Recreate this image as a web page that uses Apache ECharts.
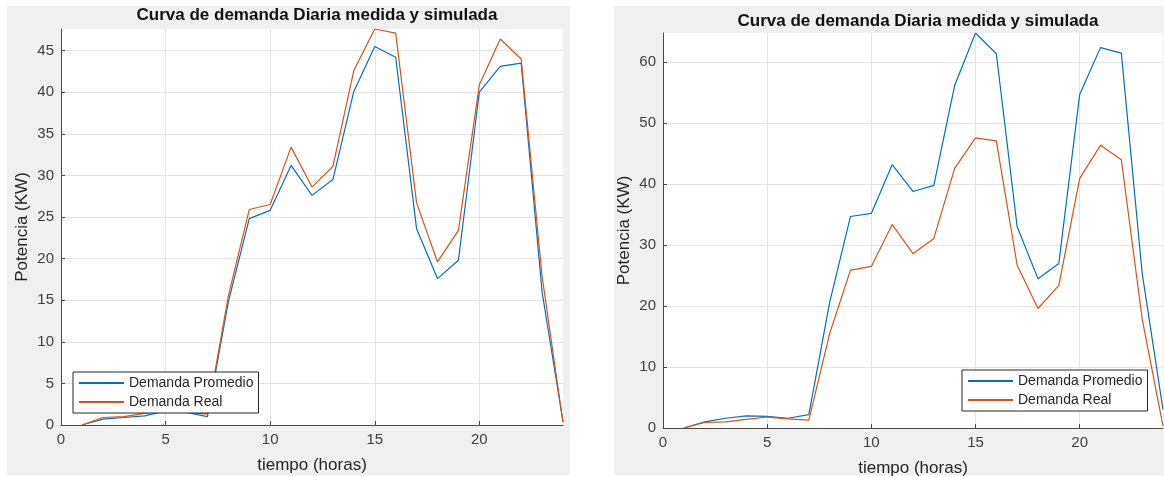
<!DOCTYPE html>
<html lang="es">
<head>
    <meta charset="utf-8">
    <title>Curva de demanda Diaria medida y simulada</title>
    <script src="https://cdn.jsdelivr.net/npm/echarts@6.0.0/dist/echarts.min.js"></script>
    <style>
        html, body { margin: 0; padding: 0; background: #ffffff; }
        #chart { width: 1164px; height: 477px; }
    </style>
</head>
<body>
<div id="chart"></div>
<script>
    // horas del dia
    var horas = [1, 2, 3, 4, 5, 6, 7, 8, 9, 10, 11, 12, 13, 14, 15, 16, 17, 18, 19, 20, 21, 22, 23, 24];
    // demanda real medida (igual en las dos graficas)
    var demandaReal = [0, 0.9, 1.0, 1.4, 1.8, 1.5, 1.3, 15.5, 25.9, 26.5, 33.4, 28.6, 31.1, 42.6, 47.6, 47.1, 26.7, 19.6, 23.4, 40.9, 46.4, 44.0, 17.9, 0.3];
    // demanda promedio simulada, grafica izquierda
    var promedioIzq = [0, 0.7, 0.9, 1.1, 1.7, 1.5, 1.0, 14.8, 24.8, 25.8, 31.2, 27.6, 29.5, 40.1, 45.5, 44.2, 23.6, 17.6, 19.8, 40.0, 43.1, 43.5, 16.0, 0.4];
    // demanda promedio simulada, grafica derecha
    var promedioDer = [0, 1.0, 1.6, 2.0, 1.9, 1.6, 2.2, 20.6, 34.7, 35.2, 43.2, 38.8, 39.8, 56.2, 64.8, 61.4, 33.0, 24.5, 27.0, 54.7, 62.4, 61.5, 25.4, 3.0];
    var nombres = ['Demanda Promedio', 'Demanda Real'];
    var titulo = 'Curva de demanda Diaria medida y simulada';

    var azul = '#0072BD';
    var naranja = '#D95319';
    var fuente = '"Liberation Sans", Arial, sans-serif';

    function pares(valores) {
        return horas.map(function (h, i) { return [h, valores[i]]; });
    }

    function ejeX(idx) {
        return {
            type: 'value', gridIndex: idx, min: 0, max: 24, interval: 5,
            name: 'tiempo (horas)', nameLocation: 'middle', nameGap: 32,
            nameTextStyle: {fontSize: 17, color: '#262626', fontFamily: fuente},
            axisLine: {show: true, lineStyle: {color: '#4a4a4a', width: 1}},
            axisTick: {show: true, inside: true, length: 4, lineStyle: {color: '#4a4a4a'}},
            axisLabel: {fontSize: 15, color: '#404040', margin: 7, fontFamily: fuente, showMaxLabel: false},
            splitLine: {show: true, showMaxLine: false, lineStyle: {color: '#e3e3e3', width: 1}}
        };
    }

    function ejeY(idx, paso) {
        return {
            type: 'value', gridIndex: idx, min: 0, max: 'dataMax', interval: paso,
            name: 'Potencia (KW)', nameLocation: 'middle', nameGap: 30,
            nameTextStyle: {fontSize: 17, color: '#262626', fontFamily: fuente},
            axisLine: {show: true, lineStyle: {color: '#4a4a4a', width: 1}},
            axisTick: {show: true, inside: true, length: 4, lineStyle: {color: '#4a4a4a'}},
            axisLabel: {fontSize: 15, color: '#404040', margin: 7, fontFamily: fuente, showMaxLabel: false},
            splitLine: {show: true, showMaxLine: false, lineStyle: {color: '#e3e3e3', width: 1}}
        };
    }

    function serie(nombre, valores, idx, color) {
        return {
            name: nombre, type: 'line', xAxisIndex: idx, yAxisIndex: idx,
            data: pares(valores), symbol: 'none', animation: false,
            lineStyle: {color: color, width: 1.2}, itemStyle: {color: color}
        };
    }

    function leyenda(x, y) {
        return {
            data: nombres, orient: 'vertical', left: x, top: y,
            itemWidth: 45, itemHeight: 14, itemGap: 5,
            padding: [4, 5, 4, 5],
            itemStyle: {opacity: 0},
            backgroundColor: '#ffffff', borderColor: '#262626', borderWidth: 1,
            textStyle: {fontSize: 14, color: '#262626', fontFamily: fuente},
            selectedMode: false
        };
    }

    var chart = echarts.init(document.getElementById('chart'));
    var option = {
        backgroundColor: '#ffffff',
        animation: false,
        graphic: [
            {type: 'rect', z: -10, shape: {x: 7, y: 6, width: 563, height: 469}, style: {fill: '#f0f0f0'}},
            {type: 'rect', z: -10, shape: {x: 614, y: 6, width: 550, height: 469}, style: {fill: '#f0f0f0'}}
        ],
        title: [
            {text: titulo, left: 312, top: 2, textAlign: 'center',
                textStyle: {fontSize: 17, fontWeight: 'bold', color: '#111', fontFamily: fuente}},
            {text: titulo, left: 913, top: 8, textAlign: 'center',
                textStyle: {fontSize: 17, fontWeight: 'bold', color: '#111', fontFamily: fuente}}
        ],
        legend: [leyenda(73, 372), leyenda(962, 370)],
        grid: [
            {left: 61, top: 29, width: 502, height: 396, show: true, backgroundColor: '#ffffff', borderWidth: 0,
                outerBoundsMode: 'none'},
            {left: 663, top: 33, width: 500, height: 395, show: true, backgroundColor: '#ffffff', borderWidth: 0,
                outerBoundsMode: 'none'}
        ],
        xAxis: [ejeX(0), ejeX(1)],
        yAxis: [ejeY(0, 5), ejeY(1, 10)],
        series: [
            serie(nombres[0], promedioIzq, 0, azul),
            serie(nombres[1], demandaReal, 0, naranja),
            serie(nombres[0], promedioDer, 1, azul),
            serie(nombres[1], demandaReal, 1, naranja)
        ]
    };
    chart.setOption(option);
</script>
</body>
</html>
